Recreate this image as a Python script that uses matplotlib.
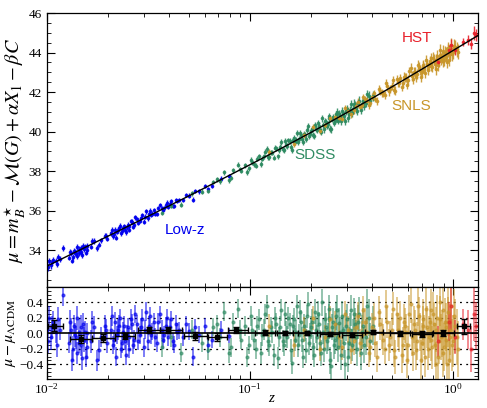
import numpy as np
import matplotlib
matplotlib.use("Agg")
import matplotlib.pyplot as plt
from matplotlib.ticker import MultipleLocator, LogLocator, NullFormatter

plt.rcParams['font.family'] = ['Liberation Serif', 'DejaVu Serif']
plt.rcParams['mathtext.fontset'] = 'stix'

# ---------------- data ----------------
# best-fit LCDM model curve
z_model = [0.01, 0.015, 0.02, 0.03, 0.04, 0.05, 0.07, 0.1, 0.15, 0.2, 0.25, 0.3,
           0.4, 0.5, 0.6, 0.7, 0.8, 0.9, 1.0, 1.1, 1.2, 1.3, 1.32]
mu_model = [33.176, 34.065, 34.697, 35.594, 36.236, 36.735, 37.497, 38.316, 39.267,
            39.958, 40.504, 40.958, 41.688, 42.265, 42.743, 43.152, 43.508, 43.824,
            44.107, 44.363, 44.597, 44.813, 44.856]

# Low-z
lowz_z = [0.0101, 0.0103, 0.0105, 0.0108, 0.0111, 0.0114, 0.0121, 0.0129, 0.0132, 0.0135,
          0.0137, 0.0140, 0.0142, 0.0145, 0.0148, 0.0151, 0.0153, 0.0156, 0.0159, 0.0165,
          0.0172, 0.0178, 0.0185, 0.0193, 0.0199, 0.0208, 0.0212, 0.0217, 0.0222, 0.0228,
          0.0233, 0.0238, 0.0242, 0.0246, 0.0251, 0.0256, 0.0262, 0.0270, 0.0278, 0.0287,
          0.0296, 0.0305, 0.0314, 0.0323, 0.0332, 0.0343, 0.0355, 0.0368, 0.0380, 0.0392,
          0.0405, 0.0418, 0.0432, 0.0447, 0.0470, 0.0500, 0.0525, 0.0560, 0.0600, 0.0650,
          0.0720, 0.0790,
          0.0102, 0.0107, 0.0112, 0.0116, 0.0130, 0.0134, 0.0138, 0.0141, 0.0144, 0.0147,
          0.0150, 0.0155, 0.0158, 0.0168, 0.0182, 0.0196, 0.0210, 0.0215, 0.0220, 0.0225,
          0.0231, 0.0236, 0.0240, 0.0248, 0.0254, 0.0259, 0.0266, 0.0274, 0.0282, 0.0291,
          0.0300, 0.0310, 0.0318, 0.0327, 0.0337, 0.0350, 0.0362, 0.0374, 0.0386, 0.0398,
          0.0411, 0.0425, 0.0440, 0.0485, 0.0540, 0.0620]
lowz_mu = [33.25, 33.44, 33.23, 33.50, 33.43, 33.65, 34.10, 33.62, 33.84, 33.64,
           33.97, 33.87, 33.70, 34.02, 33.89, 34.21, 34.04, 33.86, 34.20, 34.18,
           34.46, 34.10, 34.49, 34.73, 34.58, 34.85, 34.69, 35.04, 34.92, 35.10,
           34.85, 35.11, 35.03, 34.89, 35.29, 35.20, 35.43, 35.29, 35.56, 35.49,
           35.76, 35.69, 35.61, 35.99, 35.85, 35.85, 36.13, 36.11, 36.11, 36.40,
           36.35, 36.24, 36.53, 36.53, 36.55, 36.76, 36.55, 36.97, 37.25, 37.25,
           37.62, 37.75,
           33.12, 33.41, 33.28, 33.55, 33.91, 33.47, 33.87, 34.14, 33.86, 34.11,
           33.75, 34.17, 34.01, 34.47, 34.28, 34.71, 35.04, 34.79, 34.62, 35.02,
           35.23, 34.95, 35.21, 35.16, 35.04, 35.46, 35.19, 35.65, 35.37, 35.62,
           35.43, 35.96, 35.83, 35.78, 36.01, 35.83, 36.27, 36.01, 36.26, 36.18,
           36.48, 36.22, 36.47, 36.79, 36.99, 37.08]
lowz_res = [0.05, 0.20, -0.05, 0.15, 0.02, 0.18, 0.50, -0.12, 0.05, -0.20,
            0.10, -0.05, -0.25, 0.02, -0.15, 0.12, -0.08, -0.30, 0.00, -0.10,
            0.08, -0.35, -0.05, 0.10, -0.12, 0.05, -0.15, 0.15, -0.02, 0.10,
            -0.20, 0.02, -0.10, -0.28, 0.08, -0.05, 0.12, -0.08, 0.12, -0.02,
            0.18, 0.05, -0.10, 0.22, 0.02, -0.05, 0.15, 0.05, -0.02, 0.20,
            0.08, -0.10, 0.12, 0.04, -0.05, 0.03, -0.30, -0.02, 0.10, -0.08,
            0.05, -0.03,
            -0.10, 0.08, -0.15, 0.05, 0.15, -0.35, -0.02, 0.20, -0.12, 0.08,
            -0.32, 0.02, -0.18, 0.15, -0.22, 0.05, 0.22, -0.08, -0.30, 0.05,
            0.20, -0.12, 0.10, -0.02, -0.20, 0.18, -0.15, 0.25, -0.10, 0.08,
            -0.18, 0.28, 0.10, -0.02, 0.15, -0.12, 0.25, -0.08, 0.10, -0.05,
            0.18, -0.15, 0.02, 0.12, 0.08, -0.15]
lowz_err = [0.15, 0.16, 0.17, 0.14, 0.15, 0.16, 0.14, 0.14, 0.15, 0.16,
            0.14, 0.15, 0.14, 0.17, 0.14, 0.15, 0.16, 0.13, 0.14, 0.15,
            0.14, 0.14, 0.13, 0.14, 0.13, 0.13, 0.12, 0.13, 0.12, 0.14,
            0.12, 0.13, 0.12, 0.13, 0.12, 0.12, 0.13, 0.12, 0.12, 0.12,
            0.13, 0.12, 0.12, 0.12, 0.11, 0.12, 0.11, 0.12, 0.11, 0.12,
            0.11, 0.11, 0.12, 0.11, 0.11, 0.11, 0.12, 0.11, 0.10, 0.11,
            0.11, 0.10,
            0.16, 0.15, 0.16, 0.14, 0.15, 0.14, 0.16, 0.15, 0.14, 0.16,
            0.15, 0.14, 0.15, 0.14, 0.14, 0.13, 0.13, 0.13, 0.12, 0.13,
            0.12, 0.13, 0.12, 0.13, 0.12, 0.13, 0.12, 0.12, 0.12, 0.12,
            0.12, 0.12, 0.12, 0.12, 0.11, 0.12, 0.11, 0.12, 0.11, 0.11,
            0.11, 0.11, 0.11, 0.11, 0.11, 0.11]

# SDSS
sdss_z = [0.037, 0.041, 0.046, 0.052, 0.058, 0.062, 0.066, 0.071, 0.075, 0.079,
          0.083, 0.087, 0.091, 0.095, 0.099, 0.103, 0.107, 0.111, 0.115, 0.119,
          0.123, 0.127, 0.131, 0.135, 0.139, 0.143, 0.147, 0.151, 0.155, 0.159,
          0.163, 0.167, 0.171, 0.175, 0.179, 0.183, 0.187, 0.191, 0.195, 0.199,
          0.204, 0.209, 0.214, 0.219, 0.224, 0.229, 0.234, 0.239, 0.244, 0.249,
          0.254, 0.259, 0.264, 0.270, 0.276, 0.282, 0.288, 0.294, 0.300, 0.307,
          0.314, 0.321, 0.329, 0.337, 0.346, 0.356, 0.366, 0.378, 0.392, 0.405,
          0.069, 0.081, 0.089, 0.097, 0.101, 0.105, 0.109, 0.113, 0.117, 0.121,
          0.125, 0.129, 0.133, 0.137, 0.141, 0.145, 0.149, 0.153, 0.157, 0.161,
          0.165, 0.169, 0.173, 0.177, 0.181, 0.185, 0.189, 0.193, 0.197, 0.2015,
          0.2065, 0.2115, 0.2165, 0.2215, 0.2265, 0.2315, 0.2365, 0.2415, 0.2465, 0.2515,
          0.2565, 0.2615, 0.267, 0.273, 0.279, 0.285, 0.291, 0.297, 0.303, 0.310,
          0.317, 0.325, 0.333, 0.341, 0.351, 0.361, 0.372, 0.385]
sdss_mu = [35.89, 36.25, 36.30, 36.87, 36.95, 37.01, 37.45, 37.49, 37.94, 37.53,
           38.04, 38.32, 38.02, 38.30, 38.14, 38.44, 38.28, 38.74, 38.63, 38.98,
           38.71, 38.96, 38.68, 39.15, 39.05, 39.46, 39.08, 39.31, 39.56, 39.20,
           39.58, 39.45, 39.94, 39.62, 39.85, 39.45, 39.85, 40.07, 39.78, 40.03,
           39.83, 40.35, 40.08, 40.30, 39.99, 40.32, 40.53, 40.30, 40.77, 40.15,
           40.63, 40.45, 40.87, 40.66, 40.90, 40.54, 40.92, 40.52, 41.15, 40.91,
           41.38, 41.12, 41.32, 41.06, 41.57, 41.42, 41.31, 41.90, 41.54, 41.82,
           37.59, 37.66, 38.10, 37.95, 38.56, 38.35, 38.62, 38.36, 38.74, 39.12,
           38.70, 38.94, 39.19, 38.74, 39.21, 39.10, 39.51, 39.27, 39.51, 39.07,
           39.68, 39.58, 39.47, 39.95, 39.64, 39.88, 39.61, 40.26, 39.90, 40.13,
           39.76, 40.15, 40.41, 40.09, 40.67, 40.12, 40.46, 40.38, 40.68, 40.11,
           40.73, 40.55, 40.98, 40.55, 40.81, 41.06, 40.77, 41.04, 40.69, 41.10,
           40.96, 41.42, 41.18, 41.44, 41.11, 41.53, 41.46, 41.79]
sdss_res = [-0.18, -0.05, -0.25, 0.05, -0.12, -0.22, 0.08, -0.05, 0.28, -0.25,
            0.15, 0.32, -0.08, 0.10, -0.15, 0.05, -0.20, 0.18, -0.02, 0.25,
            -0.10, 0.08, -0.28, 0.12, -0.05, 0.30, -0.15, 0.02, 0.20, -0.22,
            0.10, -0.08, 0.35, -0.02, 0.15, -0.30, 0.05, 0.22, -0.12, 0.08,
            -0.18, 0.28, -0.05, 0.12, -0.25, 0.02, 0.18, -0.10, 0.32, -0.35,
            0.08, -0.15, 0.22, -0.05, 0.14, -0.28, 0.05, -0.40, 0.18, -0.12,
            0.30, -0.02, 0.12, -0.20, 0.25, 0.02, -0.15, 0.35, -0.10, 0.10,
            0.12, -0.18, 0.05, -0.30, 0.22, -0.08, 0.10, -0.25, 0.05, 0.35,
            -0.15, 0.02, 0.20, -0.32, 0.08, -0.10, 0.25, -0.05, 0.12, -0.38,
            0.18, 0.02, -0.15, 0.28, -0.08, 0.10, -0.22, 0.38, -0.02, 0.15,
            -0.28, 0.05, 0.25, -0.12, 0.40, -0.20, 0.08, -0.05, 0.20, -0.42,
            0.15, -0.08, 0.30, -0.18, 0.02, 0.22, -0.12, 0.10, -0.30, 0.05,
            -0.15, 0.25, -0.05, 0.15, -0.25, 0.10, -0.05, 0.20]
sdss_err = [0.12, 0.12, 0.12, 0.12, 0.12, 0.13, 0.12, 0.12, 0.12, 0.13,
            0.12, 0.12, 0.12, 0.13, 0.12, 0.13, 0.13, 0.13, 0.14, 0.13,
            0.14, 0.13, 0.14, 0.14, 0.13, 0.14, 0.14, 0.14, 0.14, 0.15,
            0.14, 0.15, 0.15, 0.14, 0.15, 0.15, 0.15, 0.15, 0.16, 0.15,
            0.16, 0.16, 0.16, 0.16, 0.17, 0.16, 0.17, 0.17, 0.17, 0.18,
            0.17, 0.18, 0.18, 0.18, 0.19, 0.19, 0.19, 0.19, 0.20, 0.20,
            0.20, 0.21, 0.21, 0.22, 0.22, 0.22, 0.23, 0.23, 0.24, 0.25,
            0.12, 0.12, 0.12, 0.13, 0.13, 0.13, 0.13, 0.14, 0.13, 0.14,
            0.14, 0.14, 0.14, 0.14, 0.14, 0.14, 0.15, 0.14, 0.15, 0.15,
            0.15, 0.15, 0.15, 0.15, 0.16, 0.15, 0.16, 0.16, 0.16, 0.16,
            0.16, 0.17, 0.17, 0.17, 0.17, 0.17, 0.18, 0.18, 0.18, 0.18,
            0.18, 0.19, 0.19, 0.19, 0.19, 0.20, 0.20, 0.20, 0.20, 0.21,
            0.21, 0.21, 0.22, 0.22, 0.22, 0.23, 0.23, 0.24]

# SNLS
snls_z = [0.125, 0.165, 0.205, 0.235, 0.262, 0.285, 0.305, 0.325, 0.340, 0.355,
          0.370, 0.385, 0.400, 0.415, 0.430, 0.445, 0.460, 0.475, 0.490, 0.505,
          0.520, 0.535, 0.550, 0.565, 0.580, 0.595, 0.610, 0.625, 0.640, 0.655,
          0.670, 0.685, 0.700, 0.715, 0.730, 0.745, 0.760, 0.775, 0.790, 0.805,
          0.820, 0.835, 0.850, 0.865, 0.880, 0.895, 0.910, 0.925, 0.940, 0.955,
          0.970, 0.990, 1.010, 1.040,
          0.185, 0.222, 0.248, 0.275, 0.295, 0.315, 0.333, 0.348, 0.362, 0.378,
          0.392, 0.408, 0.422, 0.438, 0.452, 0.468, 0.482, 0.498, 0.512, 0.528,
          0.542, 0.558, 0.572, 0.588, 0.602, 0.618, 0.632, 0.648, 0.662, 0.678,
          0.692, 0.708, 0.722, 0.738, 0.752, 0.768, 0.782, 0.798, 0.812, 0.828,
          0.842, 0.858, 0.872, 0.888, 0.902, 0.918, 0.932, 0.948, 0.962, 0.980,
          1.000, 1.025, 1.055]
snls_mu = [38.95, 39.35, 40.22, 40.31, 40.75, 40.66, 41.06, 41.07, 41.50, 41.37,
           41.64, 41.34, 41.77, 41.67, 42.16, 41.97, 41.86, 42.29, 42.17, 42.62,
           42.08, 42.50, 42.72, 42.44, 42.76, 42.38, 43.05, 42.81, 43.04, 42.76,
           43.39, 43.12, 43.04, 43.39, 42.97, 43.40, 43.32, 43.72, 43.29, 43.65,
           43.17, 43.82, 43.57, 44.12, 43.76, 43.56, 44.00, 43.82, 44.22, 43.63,
           44.08, 43.93, 44.35, 44.16,
           39.83, 40.02, 40.67, 40.70, 41.18, 40.87, 41.31, 41.22, 41.74, 41.57,
           41.46, 41.94, 41.53, 42.05, 41.93, 42.45, 42.03, 42.31, 42.12, 42.67,
           42.47, 42.28, 42.78, 42.72, 42.61, 43.21, 42.64, 43.00, 42.91, 43.29,
           42.78, 43.29, 43.22, 43.62, 43.14, 43.55, 43.37, 43.75, 43.40, 43.65,
           43.35, 43.88, 43.69, 44.09, 43.65, 43.96, 43.52, 44.11, 43.95, 44.40,
           44.01, 44.27, 44.05]
snls_res = [0.10, -0.15, 0.20, -0.05, 0.12, -0.18, 0.05, -0.10, 0.22, -0.02,
            0.15, -0.25, 0.08, -0.12, 0.28, 0.00, -0.20, 0.15, -0.05, 0.32,
            -0.30, 0.05, 0.20, -0.15, 0.10, -0.35, 0.25, -0.05, 0.12, -0.22,
            0.35, 0.02, -0.12, 0.18, -0.30, 0.08, -0.05, 0.30, -0.18, 0.12,
            -0.40, 0.20, -0.10, 0.40, 0.00, -0.25, 0.15, -0.08, 0.28, -0.35,
            0.05, -0.15, 0.22, -0.05,
            0.05, -0.20, 0.18, -0.05, 0.25, -0.22, 0.08, -0.12, 0.30, 0.02,
            -0.18, 0.20, -0.30, 0.12, -0.08, 0.35, -0.15, 0.05, -0.22, 0.25,
            -0.02, -0.28, 0.15, 0.02, -0.15, 0.38, -0.25, 0.05, -0.10, 0.22,
            -0.35, 0.10, -0.02, 0.32, -0.20, 0.15, -0.08, 0.25, -0.15, 0.05,
            -0.30, 0.18, -0.05, 0.30, -0.18, 0.08, -0.40, 0.15, -0.05, 0.35,
            -0.10, 0.10, -0.20]
snls_err = [0.15, 0.15, 0.16, 0.16, 0.17, 0.17, 0.17, 0.18, 0.18, 0.18,
            0.18, 0.19, 0.19, 0.19, 0.20, 0.20, 0.20, 0.21, 0.21, 0.21,
            0.22, 0.22, 0.22, 0.23, 0.23, 0.23, 0.24, 0.24, 0.24, 0.25,
            0.25, 0.25, 0.26, 0.26, 0.27, 0.27, 0.27, 0.28, 0.28, 0.28,
            0.29, 0.29, 0.30, 0.30, 0.30, 0.31, 0.31, 0.32, 0.32, 0.33,
            0.33, 0.34, 0.35, 0.36,
            0.16, 0.16, 0.17, 0.17, 0.17, 0.18, 0.18, 0.18, 0.18, 0.19,
            0.19, 0.19, 0.20, 0.20, 0.20, 0.21, 0.21, 0.21, 0.22, 0.22,
            0.22, 0.23, 0.23, 0.23, 0.24, 0.24, 0.24, 0.25, 0.25, 0.25,
            0.26, 0.26, 0.26, 0.27, 0.27, 0.27, 0.28, 0.28, 0.29, 0.29,
            0.29, 0.30, 0.30, 0.31, 0.31, 0.31, 0.32, 0.32, 0.33, 0.34,
            0.34, 0.35, 0.36]

# HST
hst_z = [0.84, 0.95, 0.975, 1.02, 1.12, 1.19, 1.23, 1.27, 1.30]
hst_mu = [43.54, 44.12, 44.39, 44.11, 44.53, 44.62, 44.46, 45.00, 44.91]
hst_res = [-0.10, 0.15, 0.35, -0.05, 0.12, 0.05, -0.20, 0.25, 0.10]
hst_err = [0.20, 0.25, 0.30, 0.22, 0.20, 0.25, 0.30, 0.35, 0.30]

# binned residuals
bin_z = [0.0109, 0.0147, 0.0190, 0.0243, 0.0319, 0.0397, 0.0538, 0.0688, 0.0860,
         0.119, 0.149, 0.192, 0.248, 0.317, 0.405, 0.547, 0.700, 0.895, 1.13]
bin_zlo = [0.0102, 0.0130, 0.0167, 0.0217, 0.0282, 0.0361, 0.0472, 0.0625, 0.0782,
           0.106, 0.136, 0.173, 0.222, 0.283, 0.368, 0.489, 0.628, 0.800, 1.04]
bin_zhi = [0.0121, 0.0167, 0.0217, 0.0273, 0.0361, 0.0462, 0.0613, 0.0770, 0.0985,
           0.133, 0.164, 0.214, 0.276, 0.356, 0.453, 0.611, 0.787, 1.01, 1.21]
bin_res = [0.10, -0.07, -0.06, -0.03, 0.04, 0.04, -0.03, -0.05, 0.04,
           0.01, 0.00, 0.01, -0.01, -0.02, 0.02, 0.00, -0.01, 0.01, 0.09]
bin_err = [0.07, 0.05, 0.05, 0.04, 0.04, 0.04, 0.05, 0.05, 0.04,
           0.03, 0.025, 0.025, 0.025, 0.03, 0.03, 0.03, 0.035, 0.04, 0.10]

# ---------------- plot ----------------
c_low = '#0000ee'
c_sdss = '#2e8b62'
c_snls = '#c8962a'
c_hst = '#e8202a'

fig = plt.figure(figsize=(4.87, 4.08), dpi=100)
ax1 = fig.add_axes([0.0955, 0.2966, 0.8852, 0.6713])
ax2 = fig.add_axes([0.0955, 0.0711, 0.8852, 0.2255], sharex=ax1)

surveys = [
    (lowz_z, lowz_mu, lowz_res, lowz_err, c_low),
    (sdss_z, sdss_mu, sdss_res, sdss_err, c_sdss),
    (snls_z, snls_mu, snls_res, snls_err, c_snls),
    (hst_z, hst_mu, hst_res, hst_err, c_hst),
]

for z, mu, res, err, col in surveys:
    ax1.errorbar(z, mu, yerr=err, fmt='o', ms=1.6, color=col, ecolor=col,
                 elinewidth=1.0, capsize=0, alpha=0.9, zorder=2)
    ax2.errorbar(z, res, yerr=err, fmt='o', ms=2.0, color=col, ecolor=col,
                 elinewidth=1.2, capsize=0, alpha=0.6, zorder=2)

ax1.plot(z_model, mu_model, color='black', lw=1.0, zorder=3)

ax2.axhline(0, color='black', lw=1.2, zorder=4)
for yv in (-0.4, -0.2, 0.2, 0.4):
    ax2.axhline(yv, color='black', lw=0.9, ls=(0, (1.5, 3.5)), zorder=1)

bz = np.array(bin_z)
xerr = [bz - np.array(bin_zlo), np.array(bin_zhi) - bz]
ax2.errorbar(bin_z, bin_res, yerr=bin_err, xerr=xerr, fmt='s', ms=2.5,
             color='black', ecolor='black', elinewidth=1.0, capsize=2.5,
             capthick=1.0, zorder=5)

ax1.set_xscale('log')
ax1.set_xlim(0.01, 1.32)
ax1.set_ylim(32.13, 46.0)
ax2.set_ylim(-0.59, 0.60)

ax1.yaxis.set_major_locator(MultipleLocator(2))
ax1.yaxis.set_minor_locator(MultipleLocator(0.5))
ax2.yaxis.set_major_locator(MultipleLocator(0.2))
ax2.yaxis.set_minor_locator(MultipleLocator(0.05))
ax2.xaxis.set_major_locator(LogLocator(base=10, numticks=10))
ax2.xaxis.set_minor_locator(LogLocator(base=10, subs=np.arange(2, 10), numticks=20))
ax2.xaxis.set_minor_formatter(NullFormatter())
plt.setp(ax1.get_xticklabels(), visible=False)

for ax in (ax1, ax2):
    ax.tick_params(which='both', direction='in', top=True, right=True,
                   labelsize=9.5)
    ax.tick_params(which='major', length=6, width=0.8)
    ax.tick_params(which='minor', length=3, width=0.6)
    for s in ax.spines.values():
        s.set_linewidth(0.9)
ax2.tick_params(axis='x', which='major', pad=2)
ax2.tick_params(axis='y', which='major', pad=2.5)

ax2.set_yticks([-0.4, -0.2, 0.0, 0.2, 0.4])
ax2.set_yticklabels(['\u22120.4', '\u22120.2', '0.0', '0.2', '0.4'])

ax1.set_ylabel(r'$\mu = m_B^{\star} - \mathcal{M}(G) + \alpha X_1 - \beta C$',
               fontsize=14.5)
ax1.yaxis.set_label_coords(-0.046, 0.5)
ax2.set_ylabel(r'$\mu - \mu_{\Lambda\mathrm{CDM}}$', fontsize=11.5)
ax2.yaxis.set_label_coords(-0.066, 0.5)
ax2.set_xlabel('z', fontsize=11, fontstyle='italic')
ax2.xaxis.set_label_coords(0.52, -0.145)

tk = dict(family=['Liberation Sans', 'DejaVu Sans'], fontsize=11,
          ha='center', va='center', transform=ax1.transAxes)
ax1.text(0.321, 0.208, 'Low-z', color=c_low, **tk)
ax1.text(0.623, 0.482, 'SDSS', color=c_sdss, **tk)
ax1.text(0.846, 0.661, 'SNLS', color=c_snls, **tk)
ax1.text(0.859, 0.909, 'HST', color=c_hst, **tk)

fig.savefig('out.png', dpi=100)
